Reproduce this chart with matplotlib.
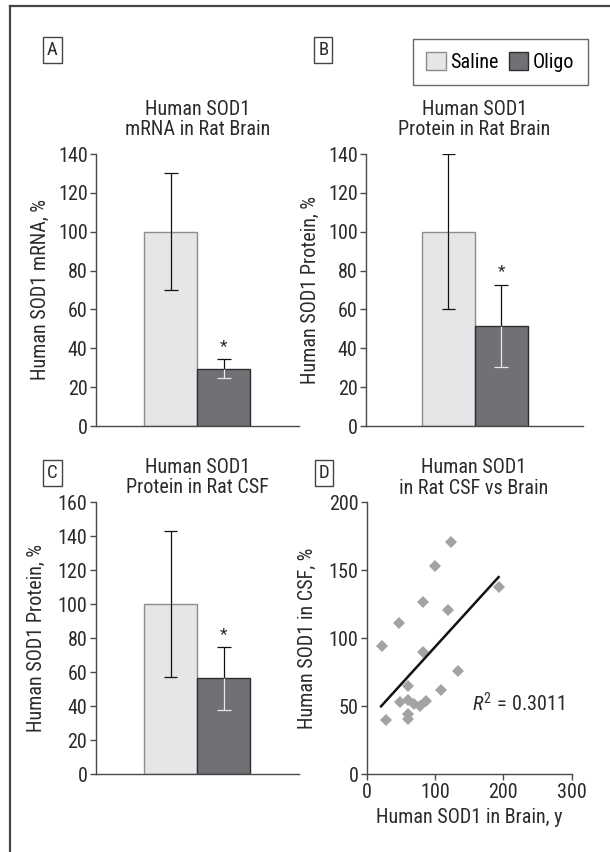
import numpy as np
import matplotlib
matplotlib.use("Agg")
import matplotlib.pyplot as plt
from matplotlib import font_manager
from matplotlib.lines import Line2D
from matplotlib.patches import Patch

# pick a narrow sans if there is one
names = {f.name for f in font_manager.fontManager.ttflist}
cands = ['Liberation Sans Narrow', 'Roboto Condensed', 'Arial Narrow', 'Open Sans Condensed', 'Roboto', 'Liberation Sans']
font = next(c for c in cands if c in names)

plt.rcParams['font.family'] = [font, 'DejaVu Sans']
plt.rcParams['mathtext.fontset'] = 'custom'
plt.rcParams['mathtext.rm'] = font
plt.rcParams['mathtext.it'] = font + ':italic'

# ---- data ----
groups = ['Saline', 'Oligo']

mrna_mean = [100, 29.5]
mrna_err = [30, 4.8]

brain_prot_mean = [100, 51.5]
brain_prot_err = [40, 21.3]

csf_prot_mean = [100, 56.5]
csf_prot_err = [43, 18.5]

# panel D scatter: brain (x) vs CSF (y)
brain_x = [22, 28, 47, 48, 60, 60, 60, 60, 69, 78, 82, 83, 87, 100, 108, 119, 124, 133, 194]
csf_y = [94, 40, 111, 53, 65, 44, 41, 55, 52, 50, 127, 90, 54, 153, 62, 121, 171, 76, 138]
fit_x = [21, 193]
fit_y = [50, 145]
r2 = 0.3011

# ---- style ----
W, H = 610, 852
FS = 14.5
txt_c = '#2a2a2a'
saline_fc, saline_ec = '#e5e6e8', '#8c8c8c'
oligo_fc, oligo_ec = '#707175', '#2e2e2e'
spine_c = '#4a4a4a'


def px(x0, y0, x1, y1):
    # pixel box (left, top, right, bottom) -> figure rect
    return [x0 / W, 1 - y1 / H, (x1 - x0) / W, (y1 - y0) / H]


fig = plt.figure(figsize=(W / 100, H / 100), dpi=100)

# outer frame (left and top only, as in the source)
fig.add_artist(Line2D([9.5 / W, 9.5 / W], [0, 1 - 6 / H], transform=fig.transFigure, color='#444444', lw=1.6))
fig.add_artist(Line2D([9.5 / W, 1], [1 - 6 / H, 1 - 6 / H], transform=fig.transFigure, color='#444444', lw=1.6))


def style_axes(ax):
    for s in ['top', 'right']:
        ax.spines[s].set_visible(False)
    for s in ['left', 'bottom']:
        ax.spines[s].set_color(spine_c)
        ax.spines[s].set_linewidth(1.0)
    ax.tick_params(axis='both', colors=spine_c, labelcolor=txt_c, labelsize=FS, length=4, width=1.0, pad=2)


def bar_panel(ax, mean, err, ylim, step, ylabel, xlim, ylab_x):
    x = np.arange(len(groups))
    fcs = [saline_fc, oligo_fc]
    ecs = [saline_ec, oligo_ec]
    ax.bar(x, mean, width=1.0, color=fcs, edgecolor=ecs, linewidth=1.0, zorder=2)
    # whiskers: black above the bar; below the top black on the light bar, light on the dark bar
    low_cols = ['#111111', '#e8e8e8']
    cap = 0.13
    for i in range(len(groups)):
        top, bot = mean[i] + err[i], mean[i] - err[i]
        ax.vlines(x[i], mean[i], top, color='#111111', lw=0.9, zorder=3)
        ax.hlines(top, x[i] - cap, x[i] + cap, color='#111111', lw=0.9, zorder=3)
        ax.vlines(x[i], bot, mean[i], color=low_cols[i], lw=0.9, zorder=3)
        ax.hlines(bot, x[i] - cap, x[i] + cap, color=low_cols[i], lw=0.9, zorder=3)
    ax.annotate('*', (x[1], mean[1] + err[1]), xytext=(0, 9), textcoords='offset points',
                ha='center', va='center', fontsize=FS - 2, color=txt_c)
    ax.set_xlim(*xlim)
    ax.set_ylim(*ylim)
    ax.set_yticks(np.arange(ylim[0], ylim[1] + 1, step))
    ax.set_xticks([])
    ax.set_ylabel(ylabel, fontsize=FS, color=txt_c)
    ax.yaxis.set_label_coords(ylab_x, 0.5)
    style_axes(ax)


def panel_tag(x, y, letter):
    fig.text(x / W, 1 - y / H, letter, ha='center', va='center', fontsize=FS - 1, color=txt_c,
             bbox=dict(boxstyle='square,pad=0.2', fc='white', ec='#444444', lw=1.0))


def title(x, y, s):
    fig.text(x / W, 1 - y / H, s, ha='center', va='center', fontsize=FS, color=txt_c, linespacing=1.1)


# A
axA = fig.add_axes(px(96, 154, 299, 426))
bar_panel(axA, mrna_mean, mrna_err, (0, 140), 20, 'Human SOD1 mRNA, %', (-1.41, 2.42), -0.228)
panel_tag(52.5, 50, 'A')
title(197.5, 119.5, 'Human SOD1\nmRNA in Rat Brain')

# B
axB = fig.add_axes(px(366, 154, 583, 426))
bar_panel(axB, brain_prot_mean, brain_prot_err, (0, 140), 20, 'Human SOD1 Protein, %', (-1.56, 2.55), -0.212)
panel_tag(323.3, 50, 'B')
title(474.5, 119.5, 'Human SOD1\nProtein in Rat Brain')

# C
axC = fig.add_axes(px(95.7, 502.3, 299, 774.3))
bar_panel(axC, csf_prot_mean, csf_prot_err, (0, 160), 20, 'Human SOD1 Protein, %', (-1.41, 2.42), -0.245)
panel_tag(52.5, 473, 'C')
title(197.7, 477.5, 'Human SOD1\nProtein in Rat CSF')

# D
axD = fig.add_axes(px(366.7, 502.3, 571.7, 774.3))
axD.plot(brain_x, csf_y, 'D', color='#a3a3a3', markersize=6.5, markeredgewidth=0, zorder=2)
axD.plot(fit_x, fit_y, color='#111111', lw=1.8, zorder=3)
axD.text(222, 52, r'$R^2\,{=}\,$' + f'{r2:.4f}', ha='center', va='center', fontsize=FS, color=txt_c)
axD.set_xlim(0, 300)
axD.set_ylim(0, 200)
axD.set_xticks([0, 100, 200, 300])
axD.set_yticks([0, 50, 100, 150, 200])
axD.set_xlabel('Human SOD1 in Brain, y', fontsize=FS, color=txt_c)
axD.set_ylabel('Human SOD1 in CSF, %', fontsize=FS, color=txt_c)
axD.xaxis.set_label_coords(0.5, -0.124)
axD.yaxis.set_label_coords(-0.242, 0.5)
style_axes(axD)
panel_tag(323.7, 473, 'D')
title(474, 478, 'Human SOD1\nin Rat CSF vs Brain')

# legend
handles = [Patch(facecolor=saline_fc, edgecolor=saline_ec, lw=1.0, label='Saline'),
           Patch(facecolor=oligo_fc, edgecolor=oligo_ec, lw=1.0, label='Oligo')]
leg = fig.legend(handles=handles, loc='upper left', bbox_to_anchor=(413.3 / W, 1 - 39.3 / H),
                 ncol=2, fontsize=FS, frameon=True, fancybox=False, edgecolor='#444444',
                 handlelength=0.95, handleheight=0.95, handletextpad=0.25, columnspacing=0.5,
                 borderpad=0.65, borderaxespad=0)
leg.get_frame().set_linewidth(1.0)

fig.savefig('out.png', dpi=100)
